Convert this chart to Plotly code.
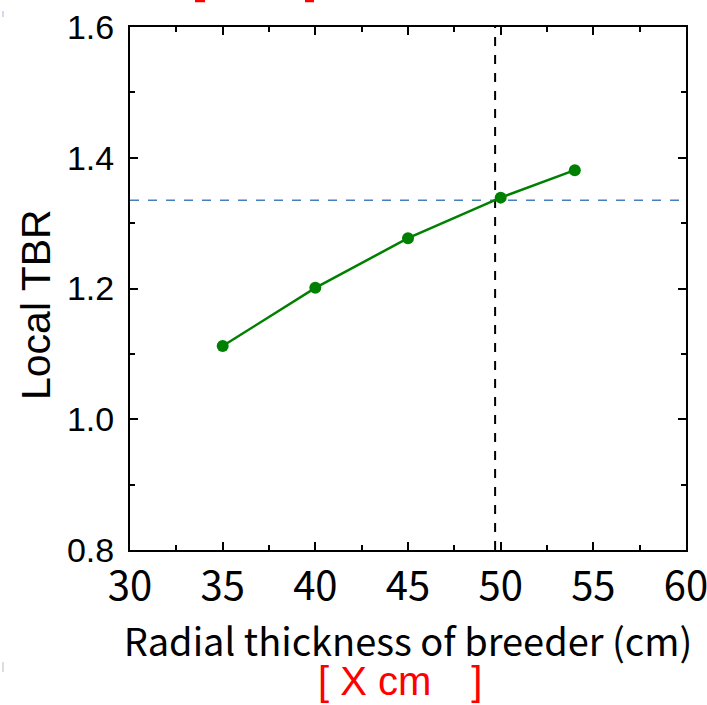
import plotly.graph_objects as go

thickness = [35, 40, 45, 50, 54]
local_tbr = [1.112, 1.201, 1.277, 1.339, 1.381]
target_tbr = 1.335
chosen_thickness = 49.7

x_ticks = [30, 35, 40, 45, 50, 55, 60]
y_ticks = [0.8, 1.0, 1.2, 1.4, 1.6]
y_tick_text = ["0.8", "1.0", "1.2", "1.4", "1.6"]

L, R, T, B = 130, 686, 27, 550
PW, PH = R - L, B - T


def px(x):
    return (x - L) / PW


def py(y):
    return (B - y) / PH


fig = go.Figure()

fig.add_trace(go.Scatter(
    x=[30, 60], y=[target_tbr, target_tbr], mode="lines",
    line=dict(color="#4a7ebb", width=1.5, dash="dash"), showlegend=False, hoverinfo="skip"))
fig.add_trace(go.Scatter(
    x=[chosen_thickness, chosen_thickness], y=[0.8, 1.6], mode="lines",
    line=dict(color="black", width=2, dash="dash"), showlegend=False, hoverinfo="skip"))
fig.add_trace(go.Scatter(
    x=thickness, y=local_tbr, mode="lines+markers",
    line=dict(color="#008000", width=2.5),
    marker=dict(color="#008000", size=12), showlegend=False))

axis_common = dict(
    showline=True, linecolor="black", linewidth=2, mirror="ticks",
    ticks="inside", ticklen=8, tickwidth=2, tickcolor="black",
    showgrid=False, zeroline=False, ticklabeloverflow="allow", automargin=False,
)

fig.update_xaxes(
    range=[30, 60], tickvals=x_ticks,
    tickfont=dict(family="Noto Sans CJK JP", size=40, color="black"),
    title=dict(text="Radial thickness of breeder (cm)",
               font=dict(family="Noto Sans CJK JP", size=38, color="black"), standoff=10),
    minor=dict(dtick=2.5, ticks="inside", ticklen=5, tickwidth=2, tickcolor="black"),
    **axis_common)
fig.update_yaxes(
    range=[0.8, 1.6], tickvals=y_ticks, ticktext=y_tick_text,
    tickfont=dict(family="Liberation Sans", size=34, color="black"),
    ticklabelstandoff=7,
    minor=dict(dtick=0.1, ticks="inside", ticklen=5, tickwidth=2, tickcolor="black"),
    **axis_common)

fig.add_annotation(
    text="Local TBR", xref="paper", yref="paper", x=px(36), y=py(305),
    xanchor="center", yanchor="middle", textangle=-90, showarrow=False,
    font=dict(family="Liberation Sans", size=41, color="black"))

fig.add_annotation(
    text="[ X cm\u2003]", xref="paper", yref="paper", x=px(400), y=py(681),
    xanchor="center", yanchor="middle", showarrow=False,
    font=dict(family="Liberation Sans", size=40, color="red"))

# cut-off red bracket bottoms at the top edge
for x0, x1 in [(195, 205), (305, 314)]:
    fig.add_shape(type="line", xref="paper", yref="paper",
                  x0=px(x0), x1=px(x1), y0=py(1), y1=py(1),
                  line=dict(color="red", width=2.5))

# faint marks at the left edge
for y0, y1, c in [(11, 17, "#b8b0d8"), (662, 672, "#bbbbbb")]:
    fig.add_shape(type="line", xref="paper", yref="paper",
                  x0=px(3), x1=px(3), y0=py(y0), y1=py(y1),
                  line=dict(color=c, width=1))

fig.update_layout(
    width=707, height=705,
    margin=dict(l=L, r=707 - R, t=T, b=705 - B),
    plot_bgcolor="white", paper_bgcolor="white",
)

fig.write_html("out.html")
